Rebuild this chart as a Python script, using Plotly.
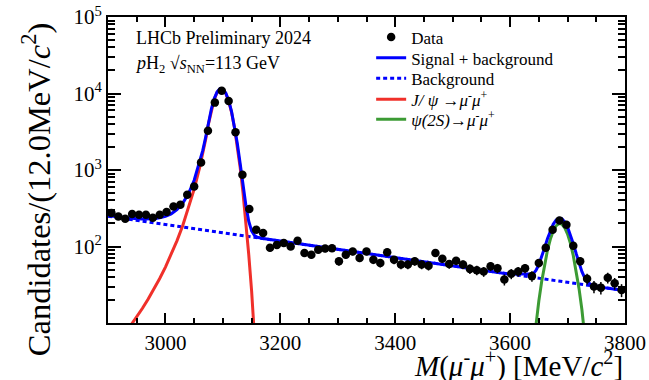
import numpy as np
import plotly.graph_objects as go

# ---------------- data ----------------
bin_lo, bin_hi, bin_w = 2900, 3800, 12
counts = [274, 247, 231, 266, 260, 260, 238, 260, 282, 334,
          351, 474, 609, 1253, 3250, 7600, 10900, 8000, 3125, 865,
          309, 166, 150, 96, 105, 111, 100, 119, 82, 78,
          91, 94, 95, 64, 78, 86, 71, 86, 67, 61,
          84, 67, 58, 58, 64, 58, 56, 82, 69, 59,
          65, 58, 51, 49, 47, 55, 52, 37, 44, 47,
          52, 41, 61, 96, 166, 219, 193, 102, 64, 38,
          30, 29, 39, 33, 27]
mass = bin_lo + bin_w * (np.arange(len(counts)) + 0.5)
counts_err = np.sqrt(np.array(counts, dtype=float))

# fit curves
bkg_x = [2900, 3000, 3100, 3200, 3300, 3400, 3500, 3600, 3700, 3800]
bkg_y = [248.3, 193.6, 151.0, 117.7, 91.8, 71.6, 55.8, 43.5, 33.9, 26.5]

jpsi_x = [2900, 2910, 2920, 2930, 2940, 2950, 2960, 2970, 2980, 2990,
          3000, 3010, 3020, 3030, 3040, 3050, 3060,
          3065, 3070, 3075, 3080, 3085, 3090, 3095, 3100, 3105, 3110,
          3115, 3120, 3125, 3130, 3135, 3140, 3145, 3150, 3155, 3160, 3170]
jpsi_y = [4.0, 4.9, 6.0, 7.5, 9.4, 12.0, 15.6, 20.6, 27.7, 38.2,
          53.8, 78.4, 118.6, 187, 314, 563, 1115,
          1641, 2515, 4037, 6155, 8420, 10340, 11400, 11280, 10016, 7978,
          5705, 3659, 2108, 1089, 505, 210, 78.6, 26.3, 7.9, 2.1, 0.1]

psi2s_x = [3640, 3645, 3650, 3655, 3660, 3665, 3670, 3675, 3680, 3685,
           3690, 3695, 3700, 3705, 3710, 3715, 3720, 3725, 3730, 3735, 3740]
psi2s_y = [4.5, 9.8, 19.4, 35.2, 58.5, 89.1, 124, 159, 186, 199,
           196, 176, 145, 110, 76, 48.2, 28.1, 14.9, 7.3, 3.3, 1.3]

total_x = [2900, 2910, 2920, 2930, 2940, 2950, 2960, 2970, 2980, 2990,
           3000, 3010, 3020, 3030, 3040, 3050, 3060,
           3065, 3070, 3075, 3080, 3085, 3090, 3095, 3100, 3105, 3110,
           3115, 3120, 3125, 3130, 3135, 3140, 3145, 3150, 3155, 3160,
           3170, 3200, 3300, 3400, 3500, 3600,
           3640, 3645, 3650, 3655, 3660, 3665, 3670, 3675, 3680, 3685,
           3690, 3695, 3700, 3705, 3710, 3715, 3720, 3725, 3730, 3735, 3740,
           3760, 3780, 3800]
total_y = [252.3, 247.1, 242.2, 237.9, 234.2, 231.2, 229.4, 229.2, 231.2, 236.7,
           247.4, 267.3, 302.8, 366.7, 489.3, 734, 1282,
           1806, 2678, 4198, 6314, 8577, 10495, 11553, 11431, 10165, 8125,
           5851, 3803, 2250, 1229, 643, 347, 213.6, 159.6, 139.6, 132.2,
           127.0, 117.7, 91.8, 71.6, 55.8, 43.5,
           43.9, 48.7, 57.8, 73.2, 96.0, 126.1, 160.6, 195.1, 221.7, 234.2,
           230.8, 210.4, 178.9, 143.5, 109.1, 80.9, 60.4, 46.8, 38.8, 34.4, 32.0,
           29.2, 27.8, 26.5]

y_tick_vals = [1e2, 1e3, 1e4, 1e5]
y_tick_text = ["10<sup>2</sup>", "10<sup>3</sup>", "10<sup>4</sup>", "10<sup>5</sup>"]
x_tick_vals = [3000, 3200, 3400, 3600, 3800]

FONT = "Liberation Serif"

fig = go.Figure()
fig.add_trace(go.Scatter(x=bkg_x, y=bkg_y, mode="lines", name="Background",
                         line=dict(color="#0000ff", width=3, dash="4px,3px"),
                         legend="legend3"))
fig.add_trace(go.Scatter(x=jpsi_x, y=jpsi_y, mode="lines",
                         name="<i>J/ ψ</i> →<i>μ</i><sup>-</sup><i>μ</i><sup>+</sup>",
                         line=dict(color="#f0302a", width=3), legend="legend4"))
fig.add_trace(go.Scatter(x=psi2s_x, y=psi2s_y, mode="lines",
                         name="<i>ψ(2S)</i>→<i>μ</i><sup>-</sup><i>μ</i><sup>+</sup>",
                         line=dict(color="#3c9b34", width=3), legend="legend5"))
fig.add_trace(go.Scatter(x=total_x, y=total_y, mode="lines", name="Signal + background",
                         line=dict(color="#0000ff", width=3), legend="legend2"))
fig.add_trace(go.Scatter(x=mass, y=counts, mode="markers", name="Data",
                         marker=dict(color="black", size=8.5, symbol="circle"),
                         error_y=dict(type="data", array=counts_err, color="black",
                                      thickness=1.5, width=0),
                         legend="legend"))

axis_common = dict(showline=True, linecolor="black", linewidth=2, mirror="allticks",
                   ticks="inside", tickcolor="black", showgrid=False, zeroline=False,
                   automargin=False,
                   tickfont=dict(family=FONT, size=21, color="black"))

fig.update_xaxes(range=[bin_lo, bin_hi], tickmode="array", tickvals=x_tick_vals,
                 ticklen=10, tickwidth=1.5,
                 minor=dict(ticks="inside", dtick=50, tick0=0, ticklen=5,
                            tickcolor="black", tickwidth=1.5),
                 **axis_common)
fig.update_yaxes(type="log", range=[1, 5], tickmode="array", tickvals=y_tick_vals,
                 ticktext=y_tick_text, ticklen=13, tickwidth=1.5,
                 minor=dict(ticks="inside", dtick="D1", ticklen=7,
                            tickcolor="black", tickwidth=1.5),
                 **axis_common)

annotations = [
    dict(text="<i>M</i>(<i>μ</i><sup>-</sup><i>μ</i><sup>+</sup>) [MeV/<i>c</i><sup>2</sup>]",
         xref="paper", yref="paper", x=1.0, y=-0.134, xanchor="right", yanchor="middle",
         showarrow=False, font=dict(family=FONT, size=29, color="black")),
    dict(text="Candidates/(12.0MeV/<i>c</i><sup>2</sup>)", textangle=-90,
         xref="paper", yref="paper", x=-0.139, y=0.99, xanchor="center", yanchor="top",
         showarrow=False, font=dict(family=FONT, size=32.5, color="black")),
    dict(text="LHCb Preliminary 2024", xref="paper", yref="paper", x=0.051, y=0.931,
         xanchor="left", yanchor="middle", showarrow=False,
         font=dict(family=FONT, size=18, color="black")),
    dict(text="<i>p</i>H<sub>2</sub> √<i>s</i><sub>NN</sub>=113 GeV", xref="paper", yref="paper",
         x=0.048, y=0.845, xanchor="left", yanchor="middle", showarrow=False,
         font=dict(family=FONT, size=18, color="black")),
]

legend_rows_y = [0.933, 0.865, 0.798, 0.730, 0.664]
legend_style = dict(x=0.509, xanchor="left", yanchor="middle", bgcolor="rgba(0,0,0,0)",
                    font=dict(family=FONT, size=17, color="black"), itemwidth=30)

fig.update_layout(
    width=649, height=380,
    margin=dict(l=108, r=24, t=17, b=57, autoexpand=False),
    paper_bgcolor="white", plot_bgcolor="white",
    font=dict(family=FONT, color="black"),
    showlegend=True,
    legend=dict(y=legend_rows_y[0], **legend_style),
    legend2=dict(y=legend_rows_y[1], **legend_style),
    legend3=dict(y=legend_rows_y[2], **legend_style),
    legend4=dict(y=legend_rows_y[3], **legend_style),
    legend5=dict(y=legend_rows_y[4], **legend_style),
    annotations=annotations,
)

fig.write_html("out.html", config={"displayModeBar": False},
               post_script="document.body.style.margin='0px';")
